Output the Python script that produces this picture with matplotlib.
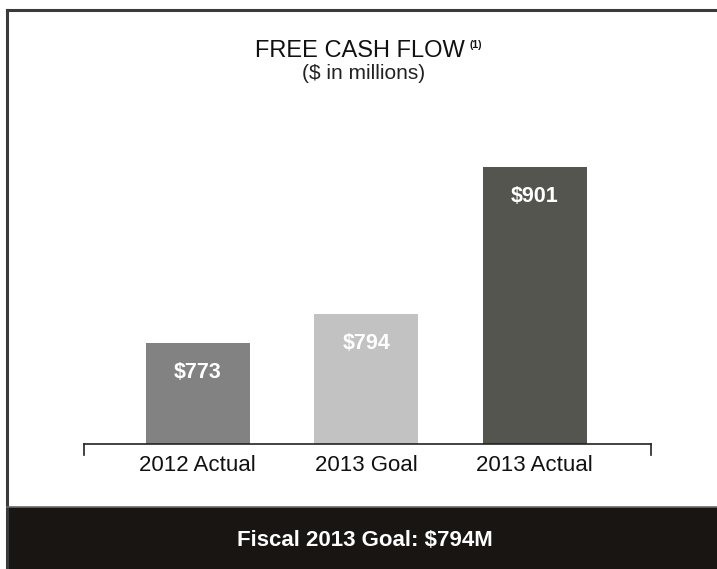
import matplotlib
matplotlib.use("Agg")
import matplotlib.pyplot as plt
from matplotlib.patches import Rectangle
from matplotlib.lines import Line2D

categories = ["2012 Actual", "2013 Goal", "2013 Actual"]
values = [773, 794, 901]
value_labels = ["$773", "$794", "$901"]
bar_colors = ["#828282", "#c2c2c2", "#55554f"]

plt.rcParams['font.family'] = ['Liberation Sans', 'DejaVu Sans']

W, H = 717, 569
fig = plt.figure(figsize=(W / 100, H / 100), dpi=100)
fig.patch.set_facecolor("white")

def fx(px):
    return px / W

def fy(py):
    return 1 - py / H

# outer frame lines (top and left)
fig.add_artist(Line2D([fx(7), 1], [fy(10), fy(10)], color="#3a3a3a", lw=2.2, transform=fig.transFigure))
fig.add_artist(Line2D([fx(7), fx(7)], [fy(10), 0], color="#3a3a3a", lw=2.2, transform=fig.transFigure))

# bottom black band
fig.add_artist(Rectangle((fx(7), 0), 1 - fx(7), fy(507), facecolor="#181512",
                         edgecolor="none", transform=fig.transFigure))
fig.add_artist(Line2D([fx(7), 1], [fy(507), fy(507)], color="#6a6a6a", lw=1.2, transform=fig.transFigure))
fig.text(fx(365), fy(540), "Fiscal 2013 Goal: $794M", color="white", fontsize=16,
         ha="center", va="center", fontweight="bold")

# titles
fig.text(fx(360), fy(51), "FREE CASH FLOW", fontsize=17, ha="center", va="center", color="#111111")
fig.text(fx(469), fy(45), "(1)", fontsize=7.5, ha="left", va="center", color="#111111", fontweight="bold")
fig.text(fx(364), fy(74), "($ in millions)", fontsize=15, ha="center", va="center", color="#222222")

# axes
ax_left, ax_right = 84, 651
ax_bottom, ax_top = 444, 100.25
ax = fig.add_axes([fx(ax_left), fy(ax_bottom), fx(ax_right - ax_left), (ax_bottom - ax_top) / H])
ax.set_facecolor("none")

x = list(range(len(categories)))
bars = ax.bar(x, values, width=0.617, color=bar_colors, bottom=0)
ax.set_ylim(699.5, 949.5)
ax.set_xlim(-0.674, 2.69)

for xi, v, lab in zip(x, values, value_labels):
    ax.annotate(lab, (xi, v), xytext=(0, -21), textcoords="offset points",
                ha="center", va="center", color="white", fontsize=15.5, fontweight="bold")

for s in ["top", "right", "left"]:
    ax.spines[s].set_visible(False)
ax.spines["bottom"].set_color("#222222")
ax.spines["bottom"].set_linewidth(1.2)
ax.set_yticks([])
ax.set_xticks(x)
ax.set_xticklabels(categories, fontsize=16, color="#111111")
ax.tick_params(axis="x", length=0, pad=8)

# end ticks of baseline
for xe in [0, 1]:
    ax.add_line(Line2D([xe, xe], [0, -0.032], color="#222222", lw=1.2,
                       transform=ax.transAxes, clip_on=False))

fig.savefig("out.png", dpi=100)
